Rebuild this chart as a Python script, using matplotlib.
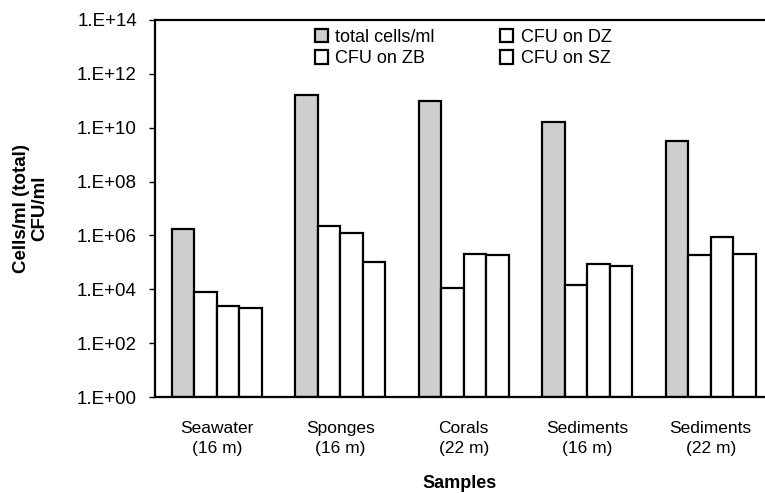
import numpy as np
import matplotlib
matplotlib.use("Agg")
import matplotlib.pyplot as plt

plt.rcParams['font.family'] = ['Liberation Sans', 'DejaVu Sans']

# Daten
samples = ['Seawater\n(16 m)', 'Sponges\n(16 m)', 'Corals\n(22 m)',
           'Sediments\n(16 m)', 'Sediments\n(22 m)']
total_cells = [1.7e6, 1.7e11, 1.0e11, 1.7e10, 3.1e9]
cfu_dz = [7.6e3, 2.2e6, 1.15e4, 1.4e4, 1.8e5]
cfu_zb = [2.3e3, 1.25e6, 2.1e5, 9.0e4, 8.9e5]
cfu_sz = [1.95e3, 1.05e5, 1.8e5, 7.5e4, 2.1e5]

series = [
    ('total cells/ml', total_cells, '#cfcfcf'),
    ('CFU on DZ', cfu_dz, 'white'),
    ('CFU on ZB', cfu_zb, 'white'),
    ('CFU on SZ', cfu_sz, 'white'),
]
ytick_vals = [1e0, 1e2, 1e4, 1e6, 1e8, 1e10, 1e12, 1e14]
ytick_labels = ['1.E+00', '1.E+02', '1.E+04', '1.E+06', '1.E+08',
                '1.E+10', '1.E+12', '1.E+14']

fig = plt.figure(figsize=(7.65, 4.93), dpi=100)
ax = fig.add_axes([155 / 765, 96 / 493, 610 / 765, 377 / 493])

x = np.arange(len(samples))
w = 0.182
handles = {}
for i, (name, vals, col) in enumerate(series):
    b = ax.bar(x + (i - 1.5) * w, vals, width=w, bottom=1, color=col,
               edgecolor='black', linewidth=1.6, label=name)
    handles[name] = b

ax.set_yscale('log')
ax.set_ylim(1, 1e14)
ax.set_xlim(-0.5, 4.44)
ax.set_yticks(ytick_vals)
ax.set_yticklabels(ytick_labels, fontsize=13.5)
ax.minorticks_off()
ax.set_xticks(x)
ax.set_xticklabels(samples, fontsize=12.5, linespacing=1.45)
ax.tick_params(axis='x', length=0, pad=17)
ax.tick_params(axis='y', direction='out', length=4, width=1, pad=9)

for s in ['left', 'bottom', 'top']:
    ax.spines[s].set_linewidth(1.6)
ax.spines['right'].set_visible(False)

ax.set_ylabel('Cells/ml (total)\nCFU/ml', fontsize=13.5, fontweight='bold',
              labelpad=21, linespacing=1.05)
ax.set_xlabel('Samples', fontsize=13, fontweight='bold', labelpad=14)

order = ['total cells/ml', 'CFU on ZB', 'CFU on DZ', 'CFU on SZ']
ax.legend([handles[n] for n in order], order, ncol=2, frameon=False,
          fontsize=13, loc='upper left', bbox_to_anchor=(0.235, 1.02),
          handlelength=0.75, handleheight=0.75, handletextpad=0.4,
          columnspacing=3.6, labelspacing=0.25)

fig.savefig('out.png', dpi=100)
